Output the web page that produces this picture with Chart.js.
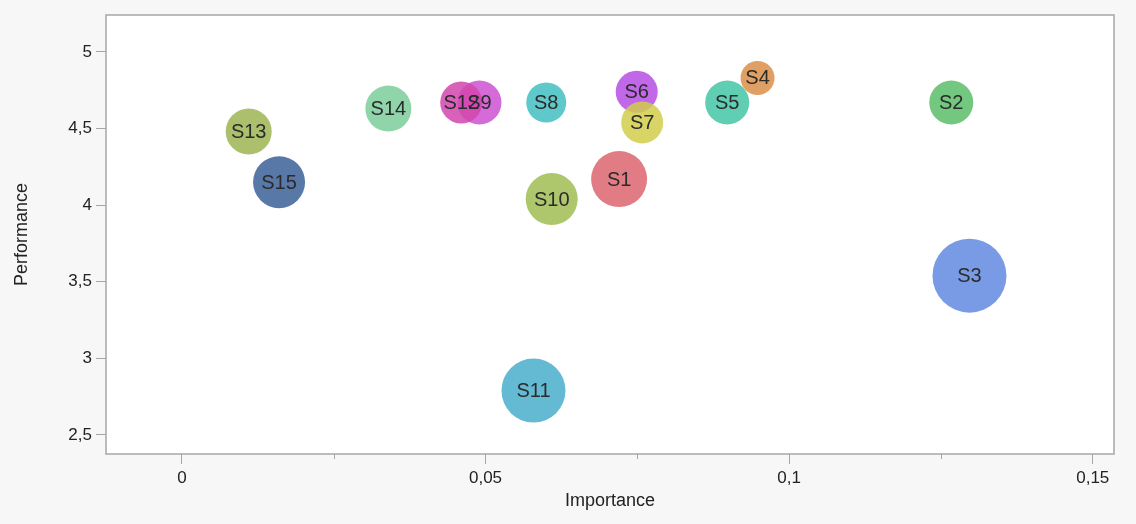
<!DOCTYPE html>
<html>
<head>
<meta charset="utf-8">
<script src="https://cdn.jsdelivr.net/npm/chart.js@4.4.0/dist/chart.umd.min.js"></script>
<style>
  body { margin: 0; background: #f7f7f7; }
  #wrap { width: 1136px; height: 524px; }
</style>
</head>
<body>
<div id="wrap"><canvas id="bubbleChart" width="1136" height="524"></canvas></div>
<script>
// Segments
const segments = ["S1", "S2", "S3", "S4", "S5", "S6", "S7", "S8", "S9", "S10", "S11", "S12", "S13", "S14", "S15"];
// Importance (x)
const importance = [0.072, 0.1267, 0.1297, 0.0948, 0.0898, 0.0749, 0.0758, 0.060, 0.049, 0.0609, 0.0579, 0.046, 0.011, 0.034, 0.016];
// Performance (y)
const performance = [4.17, 4.67, 3.54, 4.83, 4.67, 4.74, 4.54, 4.67, 4.67, 4.04, 2.79, 4.67, 4.48, 4.63, 4.15];
// Bubble size
const bubbleSize = [28, 22, 37, 17, 22, 21, 21, 20, 22, 26, 32, 21, 23, 23, 26];

// Tick values
const xTicks = [0, 0.05, 0.1, 0.15];
const xMinorTicks = [0.025, 0.075, 0.125];
const yTicks = [2.5, 3, 3.5, 4, 4.5, 5];

const colors = [
  "rgba(220,101,110,0.85)",
  "rgba(91,189,103,0.85)",
  "rgba(98,138,226,0.85)",
  "rgba(219,143,73,0.85)",
  "rgba(67,198,164,0.85)",
  "rgba(181,77,228,0.85)",
  "rgba(209,204,75,0.85)",
  "rgba(66,190,193,0.85)",
  "rgba(206,80,210,0.85)",
  "rgba(160,188,82,0.85)",
  "rgba(73,173,203,0.85)",
  "rgba(209,70,173,0.85)",
  "rgba(157,180,82,0.85)",
  "rgba(124,204,155,0.85)",
  "rgba(59,96,153,0.85)",
];

const FONT = "'Liberation Sans', Arial, Helvetica, sans-serif";
const AXIS_GRAY = "#a6a6a6";

// Format number with comma decimal
function commaNum(v) {
  return String(Math.round(v * 1000) / 1000).replace(".", ",");
}

// No automatic label padding, keep the plot box fixed
function noPadding(scale) {
  scale.paddingTop = 0;
  scale.paddingBottom = 0;
  scale.paddingLeft = 0;
  scale.paddingRight = 0;
}

// White plot area + frame + minor ticks
const plotFrame = {
  id: "plotFrame",
  beforeDatasetsDraw(chart) {
    const { ctx, chartArea: a } = chart;
    ctx.save();
    ctx.fillStyle = "#ffffff";
    ctx.fillRect(a.left, a.top, a.right - a.left, a.bottom - a.top);
    ctx.restore();
  },
  afterDatasetsDraw(chart) {
    const { ctx, chartArea: a, scales } = chart;
    ctx.save();
    ctx.strokeStyle = AXIS_GRAY;
    ctx.lineWidth = 1.5;
    ctx.strokeRect(a.left, a.top, a.right - a.left, a.bottom - a.top);
    ctx.lineWidth = 1;
    xMinorTicks.forEach((v) => {
      const px = Math.round(scales.x.getPixelForValue(v)) + 0.5;
      ctx.beginPath();
      ctx.moveTo(px, a.bottom);
      ctx.lineTo(px, a.bottom + 5);
      ctx.stroke();
    });
    ctx.restore();
  },
};

// Labels inside bubbles
const bubbleLabels = {
  id: "bubbleLabels",
  afterDatasetsDraw(chart) {
    const { ctx } = chart;
    const meta = chart.getDatasetMeta(0);
    ctx.save();
    ctx.font = "20px " + FONT;
    ctx.fillStyle = "#2b2b2b";
    ctx.textAlign = "center";
    ctx.textBaseline = "middle";
    meta.data.forEach((pt, i) => {
      ctx.fillText(segments[i], pt.x, pt.y + 1);
    });
    ctx.restore();
  },
};

const ctx = document.getElementById("bubbleChart").getContext("2d");

new Chart(ctx, {
  type: "bubble",
  data: {
    datasets: [
      {
        data: segments.map((s, i) => ({
          x: importance[i],
          y: performance[i],
          r: bubbleSize[i],
        })),
        backgroundColor: colors,
        borderWidth: 0,
        hoverRadius: 0,
      },
    ],
  },
  options: {
    responsive: false,
    animation: false,
    layout: {
      autoPadding: false,
      padding: { left: 0, top: 15, right: 22, bottom: 0 },
    },
    plugins: {
      legend: { display: false },
      tooltip: { enabled: false },
    },
    scales: {
      x: {
        type: "linear",
        min: -0.0125,
        max: 0.1535,
        afterBuildTicks: (scale) => {
          scale.ticks = xTicks.map((v) => ({ value: v }));
        },
        afterFit: (scale) => {
          scale.height = 70;
          noPadding(scale);
        },
        border: { display: false },
        grid: {
          drawOnChartArea: false,
          tickLength: 10,
          tickColor: AXIS_GRAY,
          tickWidth: 1,
        },
        ticks: {
          padding: 4,
          color: "#222",
          font: { family: FONT, size: 17 },
          callback: (v) => commaNum(v),
        },
        title: {
          display: true,
          text: "Importance",
          color: "#222",
          font: { family: FONT, size: 18 },
          padding: { top: 0, bottom: 12 },
        },
      },
      y: {
        type: "linear",
        min: 2.376,
        max: 5.241,
        afterBuildTicks: (scale) => {
          scale.ticks = yTicks.map((v) => ({ value: v }));
        },
        afterFit: (scale) => {
          scale.width = 106;
          noPadding(scale);
        },
        border: { display: false },
        grid: {
          drawOnChartArea: false,
          tickLength: 10,
          tickColor: AXIS_GRAY,
          tickWidth: 1,
        },
        ticks: {
          padding: 4,
          color: "#222",
          font: { family: FONT, size: 17 },
          callback: (v) => commaNum(v),
        },
        title: {
          display: true,
          text: "Performance",
          color: "#222",
          font: { family: FONT, size: 18 },
          padding: { top: 11, bottom: 0 },
        },
      },
    },
  },
  plugins: [plotFrame, bubbleLabels],
});
</script>
</body>
</html>
